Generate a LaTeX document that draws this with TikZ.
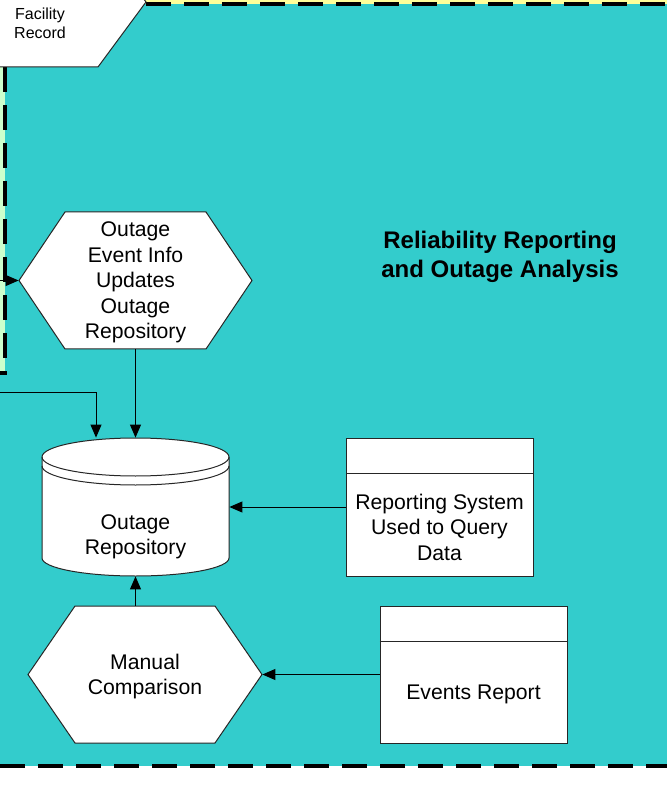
\documentclass[tikz,border=0pt]{standalone}
\usepackage{fontspec}
\setmainfont{Liberation Sans}
\usepackage{tikz}
\usetikzlibrary{calc, positioning, arrows.meta}
\usepackage{xcolor}
\definecolor{laneTeal}{RGB}{51, 204, 204}
\definecolor{laneYellow}{RGB}{255, 255, 153}
\definecolor{laneGreen}{RGB}{204, 255, 204}

\begin{document}
\begin{tikzpicture}[
  x=0.5pt, y=-0.5pt,
  shapeline/.style={draw=black!85, fill=white, line width=0.5pt},
  lanedash/.style={line width=2pt, dash pattern=on 12.5pt off 6.5pt},
  flow/.style={-{Triangle[length=6.5pt, width=5.5pt]}, line width=0.5pt},
  txt/.style={font=\fontsize{10.6}{12.75}\selectfont, align=center, inner sep=0pt},
  box/.style={shapeline, minimum width=93.5pt, minimum height=68.5pt, inner sep=0pt, anchor=center}
]
  \useasboundingbox (0,0) rectangle (667,785);
  \clip (0,0) rectangle (667,785);
  % Swimlanes
  \fill[white] (0,0) rectangle (667,785);
  \fill[laneYellow] (0,0) rectangle (667,4);
  \fill[laneGreen] (0,0) rectangle (5,373);
  \fill[laneTeal] (5,4) rectangle (667,766);
  \fill[laneTeal] (0,373) rectangle (5,766);
  \draw[lanedash] (146,4) -- (667,4);
  \draw[lanedash] (5,67) -- (5,373) -- (0,373);
  \draw[lanedash] (0,766) -- (667,766);
  \node[font=\fontsize{12}{14.5}\selectfont\bfseries, align=center] (lanetitle) at (500,257)
    {Reliability Reporting\\and Outage Analysis};
  % Facility record (upper left)
  \path[shapeline] (-20,-63) -- (98,-63) -- (146,2) -- (98,67) -- (-20,67) -- cycle;
  \node[font=\fontsize{8}{9.5}\selectfont, align=center, inner sep=0pt] (facility) at (40,23) {Facility\\Record};
  % Process hexagons
  \path[shapeline] (19,280.5) -- (65,212) -- (206,212) -- (252,280.5) -- (206,349) -- (65,349) -- cycle;
  \node[txt, minimum width=116.5pt, minimum height=68.5pt] (evtupd) at (135.5,280.5) {};
  \node[txt] (evtupdlabel) at ([yshift=-1pt]evtupd.center)
    {Outage\\Event Info\\Updates\\Outage\\Repository};
  \path[shapeline] (28,674.5) -- (75,606) -- (215,606) -- (262,674.5) -- (215,743) -- (75,743) -- cycle;
  \node[txt, minimum width=117pt, minimum height=68.5pt] (manual) at (145,674.5) {};
  \node[txt] (manuallabel) at ([yshift=-1pt]manual.center) {Manual\\Comparison};
  % Repository cylinder
  \path[shapeline] (42,457) -- (42,558)
    arc[start angle=180, end angle=360, x radius=46.75pt, y radius=9pt] -- (229,457)
    arc[start angle=0, end angle=180, x radius=46.75pt, y radius=9.5pt] -- cycle;
  \draw[shapeline, fill=none] (42,457) arc[start angle=180, end angle=360, x radius=46.75pt, y radius=9.5pt];
  \draw[shapeline, fill=none] (42,466) arc[start angle=180, end angle=360, x radius=46.75pt, y radius=9.5pt];
  \node[txt, minimum width=93.5pt, minimum height=69pt] (repo) at (135.5,507) {};
  \node[txt] (repolabel) at ([yshift=-15pt]repo.center) {Outage\\Repository};
  % Reports
  \node[box, minimum height=69pt] (query) at (439.5,507) {};
  \draw[shapeline] ([yshift=-18pt]query.north west) -- ([yshift=-18pt]query.north east);
  \node[txt] (querylabel) at ([yshift=-10pt]query.center) {Reporting System\\Used to Query\\Data};
  \node[box] (events) at (473.5,674.5) {};
  \draw[shapeline] ([yshift=-18pt]events.north west) -- ([yshift=-18pt]events.north east);
  \node[txt] (eventslabel) at ([yshift=-10pt]events.center) {Events Report};
  % Flows
  \coordinate (lanein) at (0,280.5);
  \coordinate (lanefeed) at (0,392);
  \draw[flow] (lanein) -- (evtupd.west);
  \draw[flow] (lanefeed) -| ([xshift=-19.75pt]repo.north);
  \draw[flow] (evtupd.south) -- (repo.north);
  \draw[flow] (query.west) -- (repo.east);
  \draw[flow] (events.west) -- (manual.east);
  \draw[flow] (repo.south |- manual.north) -- (repo.south);
\end{tikzpicture}
\end{document}
